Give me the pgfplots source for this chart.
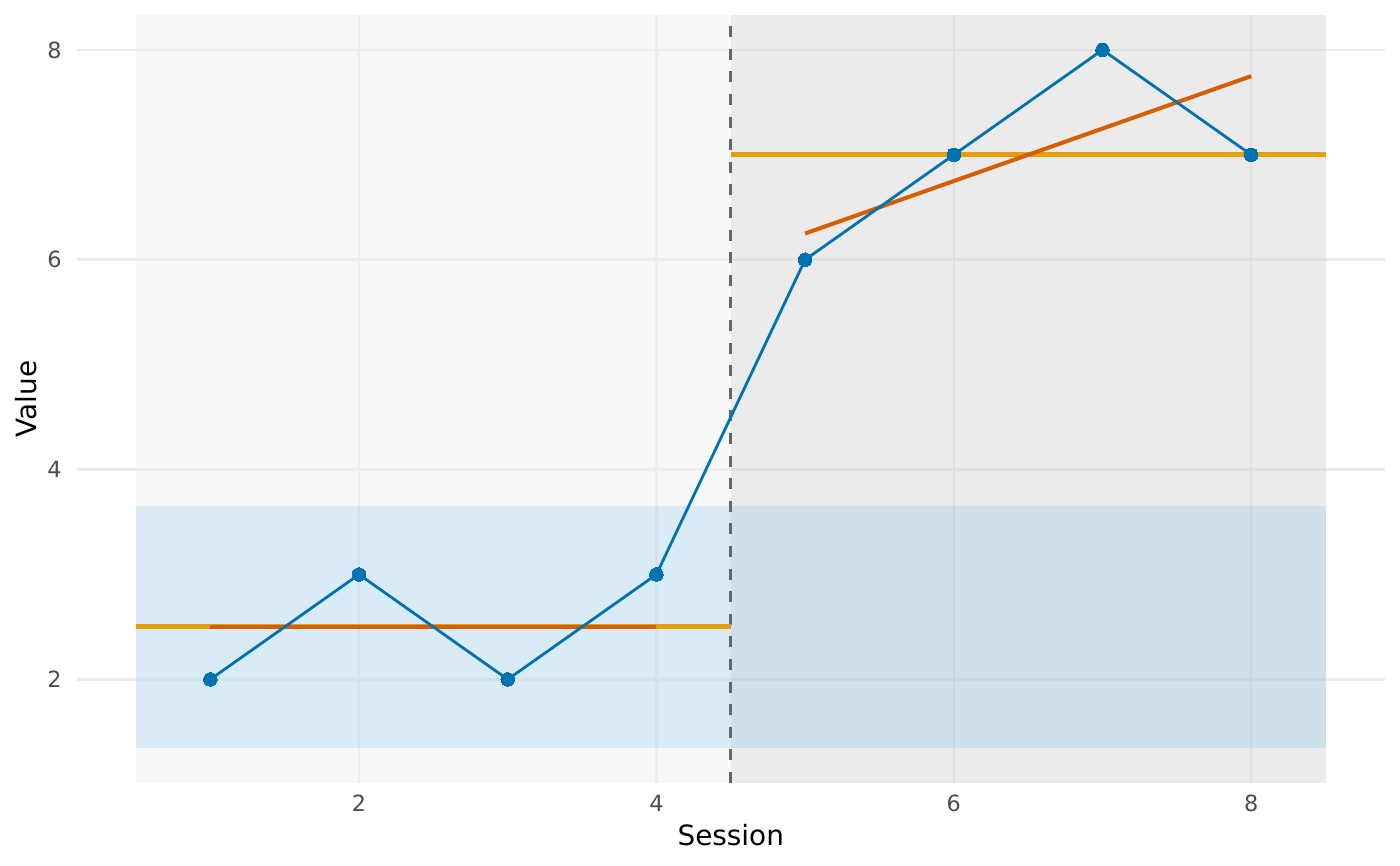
\documentclass[border=0pt]{standalone}
\usepackage{pgfplots}
\pgfplotsset{compat=1.18}
\usepackage{fontspec}
\setmainfont{DejaVu Sans}
\definecolor{dblue}{HTML}{0072B2}
\definecolor{skyblue}{HTML}{56B4E9}
\definecolor{meancol}{HTML}{E69F00}
\definecolor{trendcol}{HTML}{D55E00}
\begin{document}
\begin{tikzpicture}
\begin{axis}[
  name=ax,
  scale only axis, width=654.25bp, height=384bp,
  xmin=0.1, xmax=8.9, ymin=1.0125, ymax=8.3327,
  axis line style={draw=none}, tick style={draw=none},
  xtick={2,4,6,8}, ytick={2,4,6,8},
  grid=major, major grid style={color=black!8, line width=1.3bp},
  /pgf/number format/assume math mode=true,
  ticklabel style={font=\fontsize{11.2}{13}\selectfont, text=black!70},
  xticklabel style={anchor=north, inner sep=0pt, yshift=-6bp},
  yticklabel style={anchor=east, inner sep=0pt, xshift=-7.25bp},
  xlabel={Session}, ylabel={Value},
  label style={font=\fontsize{14}{16}\selectfont, text=black},
  xlabel style={at={(axis description cs:0.5,-0.0820)}, anchor=base},
  ylabel style={at={(axis description cs:-0.0386,0.5)}, anchor=center},
]
% phase backgrounds
\addplot[draw=none, fill=black!5.5, fill opacity=0.5] coordinates {(0.5,1.0125) (4.5,1.0125) (4.5,8.3327) (0.5,8.3327)} -- cycle;
\addplot[draw=none, fill=black!15.7, fill opacity=0.5] coordinates {(4.5,1.0125) (8.5,1.0125) (8.5,8.3327) (4.5,8.3327)} -- cycle;
% baseline band
\addplot[draw=none, fill=skyblue, fill opacity=0.19] coordinates {(0.5,1.345) (8.5,1.345) (8.5,3.655) (0.5,3.655)} -- cycle;
% phase change line
\addplot[black!60, line width=1.5bp, dash pattern=on 5.5bp off 5.8bp] coordinates {(4.5,1.0125) (4.5,8.3327)};
% means
\addplot[meancol, line width=2.5bp] coordinates {(0.5,2.5) (4.5,2.5)};
\addplot[meancol, line width=2.5bp] coordinates {(4.5,7) (8.5,7)};
% trends
\addplot[trendcol, line width=2bp] coordinates {(1,2.5) (4,2.5)};
\addplot[trendcol, line width=2bp] coordinates {(5,6.25) (8,7.75)};
% data
\addplot[dblue, line width=1.4bp, mark=*, mark size=3.4bp, mark options={fill=dblue, draw=dblue, line width=0pt}] coordinates {(1,2) (2,3) (3,2) (4,3) (5,6) (6,7) (7,8) (8,7)};
\end{axis}
\pgfresetboundingbox
\path[use as bounding box] ([shift={(-38.25bp,-41.5bp)}]ax.south west) rectangle ([shift={(7.5bp,7.5bp)}]ax.north east);
\end{tikzpicture}
\end{document}
